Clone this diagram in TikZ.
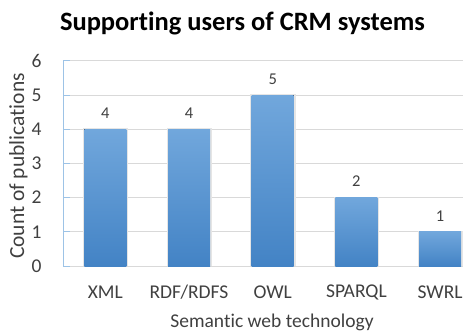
\documentclass[tikz,border=0pt]{standalone}
\usepackage{fontspec}
\setmainfont{Carlito}[Ligatures={NoCommon}]
\usetikzlibrary{positioning,calc}
\definecolor{bartop}{HTML}{71A7DC}
\definecolor{barbottom}{HTML}{4383C5}
\definecolor{axisblue}{HTML}{9DC3E6}
\definecolor{gridgray}{HTML}{D9D9D9}
\definecolor{labelgray}{HTML}{404040}

\begin{document}
\begin{tikzpicture}[x=1pt,y=1pt,
    bar/.style={top color=bartop, bottom color=barbottom},
    shade/.style={fill=black!10},
    ticklabel/.style={font=\fontsize{19.5}{22}\selectfont, text=labelgray},
    vallabel/.style={font=\fontsize{16.5}{18}\selectfont, text=labelgray}]
    \useasboundingbox (0,0) rectangle (463,333);

    % Title
    \node[font=\fontsize{26.5}{30}\selectfont\bfseries] (title) at (242.5,310) {Supporting users of CRM systems};

    % Gridlines and y tick labels
    \foreach \v in {0,...,6} {
        \draw[gridgray, line width=1pt] (63,{67+34.2*\v}) -- (463,{67+34.2*\v});
        \draw[axisblue, line width=1pt] (63,{67+34.2*\v}) -- (70,{67+34.2*\v});
        \node[ticklabel, anchor=east] (tick\v) at (45,{67+34.2*\v}) {\v};
    }
    \draw[axisblue, line width=1pt] (63,67) -- (63,{67+34.2*6});

    % Bars
    \foreach \name/\val [count=\i] in {XML/4, {RDF/RDFS}/4, OWL/5, SPARQL/2, SWRL/1} {
        \pgfmathsetmacro{\cx}{105.3+83.7*(\i-1)}
        \pgfmathsetmacro{\top}{67+34.2*\val}
        \fill[shade] (\cx-22.5,67) rectangle (\cx+23,\top+0.8);
        \fill[bar] (\cx-21,67) rectangle (\cx+21,\top);
        \node[vallabel] (val\i) at (\cx,\top+16) {\val};
        \node[ticklabel] (cat\i) at (\cx,40.5) {\name};
    }

    % Axis titles
    \node[ticklabel] (xtitle) at (272,11) {Semantic web technology};
    \node[ticklabel, font=\fontsize{21.5}{24}\selectfont, rotate=90] (ytitle) at (18.5,167) {Count of publications};
\end{tikzpicture}
\end{document}
